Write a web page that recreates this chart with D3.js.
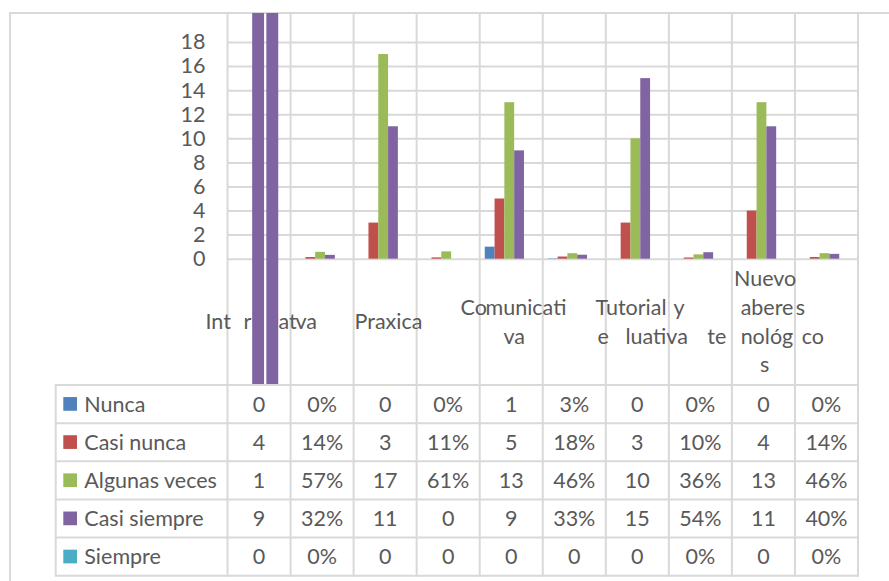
<!DOCTYPE html>
<html>
<head>
<meta charset="utf-8">
<script src="https://cdn.jsdelivr.net/npm/d3@7"></script>
<style>
  html, body { margin: 0; padding: 0; background: #fff; }
  svg { display: block; }
</style>
</head>
<body>
<div id="chart"></div>
<script>
// Chart data: each category has a count column and a percent column
const categories = ['Interactiva', 'Praxica', 'Comunicativa', 'Tutorial y evaluativa', 'Nuevos saberes tecnológicos'];
const seriesNames = ['Nunca', 'Casi nunca', 'Algunas veces', 'Casi siempre', 'Siempre'];
const seriesColors = ['#4f81bd', '#c0504d', '#9bbb59', '#8064a2', '#4bacc6'];

const nunca = [0, 0, 0, 0, 1, 0.03, 0, 0, 0, 0];
const casiNunca = [4, 0.14, 3, 0.11, 5, 0.18, 3, 0.10, 4, 0.14];
const algunasVeces = [1, 0.57, 17, 0.61, 13, 0.46, 10, 0.36, 13, 0.46];
const casiSiempre = [9, 0.32, 11, 0, 9, 0.33, 15, 0.54, 11, 0.40];
const siempre = [0, 0, 0, 0, 0, 0, 0, 0, 0, 0];

// Table cell texts as printed
const nuncaText = ['0', '0%', '0', '0%', '1', '3%', '0', '0%', '0', '0%'];
const casiNuncaText = ['4', '14%', '3', '11%', '5', '18%', '3', '10%', '4', '14%'];
const algunasVecesText = ['1', '57%', '17', '61%', '13', '46%', '10', '36%', '13', '46%'];
const casiSiempreText = ['9', '32%', '11', '0', '9', '33%', '15', '54%', '11', '40%'];
const siempreText = ['0', '0%', '0', '0', '0', '0', '0', '0%', '0', '0%'];

const yTicks = [0, 2, 4, 6, 8, 10, 12, 14, 16, 18];

const seriesValues = [nunca, casiNunca, algunasVeces, casiSiempre, siempre];
const seriesTexts = [nuncaText, casiNuncaText, algunasVecesText, casiSiempreText, siempreText];

// The first column renders as two overflowing strips in the original
const brokenColumn = 0;

// Visible pieces of the category labels: [text, offset from label centre] per line
const labelPieces = {
    'Interactiva': [[['Int', -56.5], ['r', -18.5], ['at', 16.5], ['va', 33.5]]],
    'Praxica': [[['Praxica', -33.6]]],
    'Comunicativa': [[['Co', -53.7], ['municati', -28.7]], [['va', -10.7]]],
    'Tutorial y evaluativa': [[['Tutorial', -44.8], ['y', 33.2]], [['e', -42.8], ['luativa', -14.8]]],
    'Nuevos saberes tecnológicos': [[['Nuevo', -32.5]], [['abere', -25.8], ['s', 29.2]],
        [['te', -59.1], ['nológ', -25.8], ['co', 35.2]], [['s', -6.5]]]
};

const width = 889;
const height = 581;
const font = 'Lato, "Open Sans", sans-serif';
const fontSize = 21.5;
const textColor = '#595959';
const lineColor = '#d9d9d9';

const frame = { left: 10, top: 13 };
const plot = { left: 227.5, right: 858, top: 42, bottom: 258.7 };
const table = { left: 55.7, top: 385, rowH: 38.15 };
const tableBottom = table.top + table.rowH * seriesNames.length;
const labelMidY = 321.5;
const labelLineH = 28.7;

const svg = d3.select('#chart')
    .append('svg')
    .attr('width', width)
    .attr('height', height)
    .style('font-family', font)
    .style('font-size', fontSize + 'px');

const nCols = nunca.length;

const x = d3.scaleBand()
    .domain(d3.range(nCols))
    .range([plot.left, plot.right]);

const xSub = d3.scaleBand()
    .domain(seriesNames)
    .range([0, x.bandwidth()])
    .paddingOuter(0.715)
    .align(0.36);

const y = d3.scaleLinear()
    .domain([0, 18])
    .range([plot.bottom, plot.top]);

// Outer frame (only top and left edges are in view)
svg.append('path')
    .attr('d', `M${frame.left},${height + 5}V${frame.top}H${width + 5}`)
    .attr('fill', 'none')
    .attr('stroke', lineColor)
    .attr('stroke-width', 2);

// Y axis with horizontal gridlines
const yAxis = svg.append('g')
    .attr('transform', `translate(${plot.left},0)`)
    .call(d3.axisLeft(y)
        .tickValues(yTicks)
        .tickSize(-(plot.right - plot.left))
        .tickPadding(22));
yAxis.select('.domain').remove();
yAxis.selectAll('.tick line').attr('stroke', lineColor).attr('stroke-width', 2);
yAxis.selectAll('.tick text')
    .attr('fill', textColor)
    .style('font-family', font)
    .style('font-size', fontSize + 'px');

// Vertical column lines run from the top of the chart down through the table
const colEdges = d3.range(nCols).map(i => x(i)).concat([plot.right]);
svg.append('g')
    .selectAll('line')
    .data(colEdges)
    .enter()
    .append('line')
    .attr('x1', d => d).attr('x2', d => d)
    .attr('y1', frame.top).attr('y2', tableBottom + 1)
    .attr('stroke', lineColor)
    .attr('stroke-width', 2);

// Table grid
svg.append('g')
    .selectAll('line')
    .data(d3.range(seriesNames.length + 1))
    .enter()
    .append('line')
    .attr('x1', table.left - 1).attr('x2', plot.right + 1)
    .attr('y1', d => table.top + d * table.rowH)
    .attr('y2', d => table.top + d * table.rowH)
    .attr('stroke', lineColor)
    .attr('stroke-width', 2);

svg.append('line')
    .attr('x1', table.left).attr('x2', table.left)
    .attr('y1', table.top).attr('y2', tableBottom)
    .attr('stroke', lineColor)
    .attr('stroke-width', 2);

// Category labels (two columns per category)
categories.forEach((cat, ci) => {
    const col = ci * 2;
    const cx = x(col) + x.bandwidth() / 2 + 3;
    const lines = labelPieces[cat];
    lines.forEach((pieces, li) => {
        const ly = labelMidY + (li - (lines.length - 1) / 2) * labelLineH;
        svg.append('g')
            .selectAll('text')
            .data(pieces)
            .enter()
            .append('text')
            .attr('x', d => cx + d[1])
            .attr('y', ly)
            .attr('dy', '0.36em')
            .attr('fill', textColor)
            .text(d => d[0]);
    });
});

// Bars
const barData = [];
seriesValues.forEach((vals, si) => {
    vals.forEach((v, i) => {
        if (i === brokenColumn || v <= 0) return;
        barData.push({ series: seriesNames[si], color: seriesColors[si], col: i, value: v });
    });
});

svg.append('g')
    .selectAll('rect')
    .data(barData)
    .enter()
    .append('rect')
    .attr('x', d => x(d.col) + xSub(d.series))
    .attr('y', d => y(d.value))
    .attr('width', xSub.bandwidth())
    .attr('height', d => y(0) - y(d.value))
    .attr('fill', d => d.color);

// Overflowing strips of the first column
const stripScale = d3.scaleBand()
    .domain([seriesNames[2], seriesNames[3]])
    .range([x(brokenColumn) + xSub(seriesNames[2]),
            x(brokenColumn) + xSub(seriesNames[4]) + xSub.bandwidth() * 0.66])
    .paddingInner(0.16);

svg.append('g')
    .selectAll('rect')
    .data(stripScale.domain())
    .enter()
    .append('rect')
    .attr('x', d => stripScale(d))
    .attr('y', frame.top)
    .attr('width', stripScale.bandwidth())
    .attr('height', table.top - frame.top - 1)
    .attr('fill', seriesColors[3]);

// Table rows: legend key, series name and values
const rows = svg.append('g')
    .selectAll('g')
    .data(seriesNames)
    .enter()
    .append('g')
    .attr('transform', (d, i) => `translate(0,${table.top + (i + 0.5) * table.rowH})`);

rows.append('rect')
    .attr('x', 63.3)
    .attr('y', -7)
    .attr('width', 13.7)
    .attr('height', 13.7)
    .attr('fill', (d, i) => seriesColors[i]);

rows.append('text')
    .attr('x', 84.3)
    .attr('dy', '0.36em')
    .attr('fill', textColor)
    .text(d => d);

rows.each(function (d, si) {
    d3.select(this).selectAll('text.val')
        .data(seriesTexts[si])
        .enter()
        .append('text')
        .attr('class', 'val')
        .attr('x', (t, i) => x(i) + x.bandwidth() / 2)
        .attr('dy', '0.36em')
        .attr('text-anchor', 'middle')
        .attr('fill', textColor)
        .text(t => t);
});
</script>
</body>
</html>
